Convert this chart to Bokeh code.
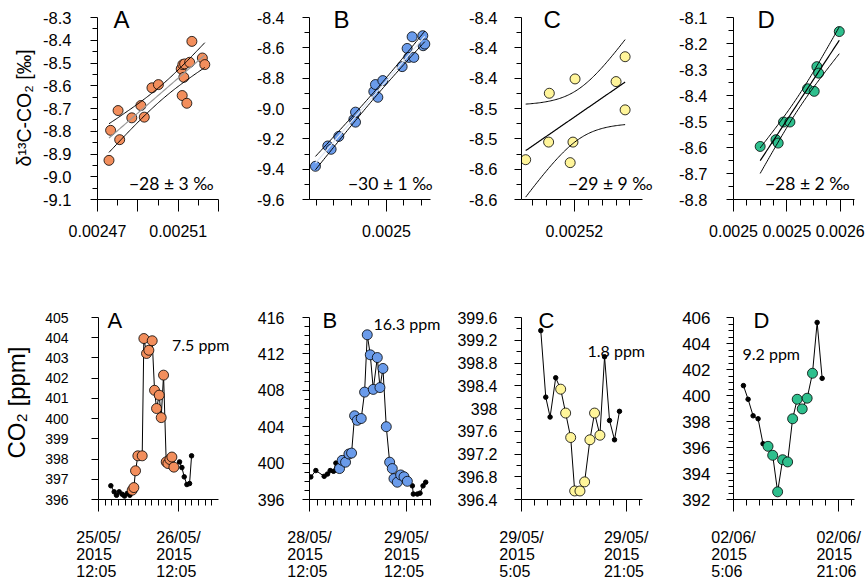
import numpy as np
from bokeh.plotting import figure
from bokeh.models import Range1d, FixedTicker, Label
from bokeh.layouts import column, row
from bokeh.embed import file_html
from bokeh.resources import INLINE

NB = "\u00a0"

# ---------------- top row: delta13C vs 1/CO2 ----------------
kA_x = [0.0024757, 0.0024765, 0.0024802, 0.0024810, 0.0024870, 0.0024915, 0.0024932,
        0.0024970, 0.0025002, 0.0025115, 0.0025123, 0.0025132, 0.0025128, 0.0025120,
        0.0025143, 0.0025157, 0.0025168, 0.0025220, 0.0025232]
kA_y = [-8.928, -8.796, -8.709, -8.837, -8.741, -8.687, -8.738, -8.609, -8.595, -8.526,
        -8.507, -8.504, -8.563, -8.643, -8.677, -8.497, -8.405, -8.478, -8.507]

kB_x = [0.0024188, 0.0024329, 0.0024367, 0.0024455, 0.0024627, 0.0024646, 0.0024646,
        0.0024855, 0.0024874, 0.0024901, 0.0024958, 0.0025179, 0.0025236, 0.0025255,
        0.0025312, 0.0025293, 0.0025415, 0.0025419, 0.0025438]
kB_y = [-9.381, -9.247, -9.269, -9.184, -9.072, -9.024, -9.090, -8.888, -8.842, -8.926,
        -8.816, -8.724, -8.604, -8.663, -8.663, -8.527, -8.520, -8.586, -8.575]

kC_x = [0.0025130, 0.0025164, 0.0025201, 0.0025163, 0.0025198, 0.0025194, 0.0025260,
        0.0025273, 0.0025273]
kC_y = [-8.5475, -8.4599, -8.4410, -8.5243, -8.5243, -8.5514, -8.4445, -8.4117, -8.4818]

kD_x = [0.0024900, 0.0025018, 0.0025035, 0.0025075, 0.0025123, 0.0025255, 0.0025305,
        0.0025325, 0.0025338, 0.0025493]
kD_y = [-8.596, -8.570, -8.583, -8.502, -8.502, -8.374, -8.384, -8.289, -8.314, -8.154]

source_text = ["\u221228 \u00b1 3 \u2030", "\u221230 \u00b1 1 \u2030",
               "\u221229 \u00b1 9 \u2030", "\u221228 \u00b1 2 \u2030"]
panel_letters = ["A", "B", "C", "D"]

# axis ranges / ticks (top)
kA_xr, kA_yr = (0.00247, 0.00253), (-9.1, -8.3)
kB_xr, kB_yr = (0.002412, 0.0025503), (-9.6, -8.4)
kC_xr, kC_yr = (0.0025124, 0.0025298), (-8.60, -8.36)
kD_xr, kD_yr = (0.00247, 0.0025607), (-8.8, -8.1)

kA_xt = [0.00247, 0.00249, 0.00251, 0.00253]
kA_xl = ["0.00247", "", "0.00251", ""]
kA_xm = [0.00248, 0.0025, 0.00252]
kA_yt = [-9.1, -9.0, -8.9, -8.8, -8.7, -8.6, -8.5, -8.4, -8.3]
kA_yl = ["-9.1", "-9.0", "-8.9", "-8.8", "-8.7", "-8.6", "-8.5", "-8.4", "-8.3"]
kA_ym = [-9.05, -8.95, -8.85, -8.75, -8.65, -8.55, -8.45, -8.35]

kB_xt = [0.0025]
kB_xl = ["0.0025"]
kB_xm = [0.00242, 0.00244, 0.00246, 0.00248, 0.00252, 0.00254]
kB_yt = [-9.6, -9.4, -9.2, -9.0, -8.8, -8.6, -8.4]
kB_yl = ["-9.6", "-9.4", "-9.2", "-9.0", "-8.8", "-8.6", "-8.4"]
kB_ym = [-9.5, -9.3, -9.1, -8.9, -8.7, -8.5]

kC_xt = [0.00252]
kC_xl = ["0.00252"]
kC_xm = [0.002514, 0.002516, 0.002518, 0.002522, 0.002524, 0.002526, 0.002528]
kC_yt = [-8.60, -8.56, -8.52, -8.48, -8.44, -8.40, -8.36]
kC_yl = ["-8.6", "-8.6", "-8.5", "-8.5", "-8.4", "-8.4", "-8.4"]
kC_ym = [-8.58, -8.54, -8.50, -8.46, -8.42, -8.38]

kD_xt = [0.00247, 0.00251, 0.00255]
kD_xl = ["0.0025", "0.0025", "0.0026"]
kD_xm = [0.00248, 0.00249, 0.0025, 0.00252, 0.00253, 0.00254, 0.00256]
kD_yt = [-8.8, -8.7, -8.6, -8.5, -8.4, -8.3, -8.2, -8.1]
kD_yl = ["-8.8", "-8.7", "-8.6", "-8.5", "-8.4", "-8.3", "-8.2", "-8.1"]
kD_ym = [-8.75, -8.65, -8.55, -8.45, -8.35, -8.25, -8.15]

# ---------------- bottom row: CO2 time series (hours after first tick) ----------------
sA_t = [3.7, 4.7, 5.4, 6.2, 7.1, 7.8, 8.6, 9.4,
        10.1, 10.6, 11.1, 11.8, 13.1, 13.6, 14.4, 15.1, 16.1, 16.8, 17.4, 18.2, 18.8, 19.5,
        20.3, 20.8, 21.4, 22.0, 22.6,
        24.3, 25.0, 25.7, 26.5, 27.3, 27.9]
sA_c = [396.68, 396.38, 396.21, 396.38, 396.26, 396.17, 396.30, 396.21,
        396.46, 396.59, 397.42, 398.16, 398.16, 403.96, 403.22, 403.38, 403.85, 401.40, 400.50,
        401.16, 400.05, 402.15, 397.86, 397.78, 397.98, 398.10, 397.60,
        397.86, 397.58, 397.12, 396.74, 396.79, 398.16]
sA_sel = [0] * 8 + [1] * 19 + [0] * 6

sB_t = [0.33, 1.57, 3.64, 4.47, 5.13, 5.96, 6.54,
        7.45, 8.11, 8.94, 9.77, 10.43, 11.18, 11.84, 12.83, 13.66, 14.32, 15.07, 15.81, 16.81,
        17.47, 18.21, 19.04, 19.87, 20.53, 20.94, 21.77, 22.60, 23.43, 24.26,
        25.50, 25.75, 26.74, 27.40, 28.15, 28.81]
sB_c = [398.48, 399.18, 398.55, 398.80, 399.18, 399.10, 400.00,
        399.40, 400.30, 400.10, 401.00, 401.10, 405.20, 404.70, 404.90, 407.80, 414.10, 411.90,
        408.10, 411.60, 408.30, 410.40, 404.00, 400.10, 399.40, 398.30, 397.90, 398.70, 398.50,
        398.00,
        397.50, 396.60, 396.60, 396.70, 397.50, 397.90]
sB_sel = [0] * 7 + [1] * 23 + [0] * 6

sC_t = [2.95, 3.71, 4.37, 5.23,
        5.99, 6.75, 7.52, 8.13, 8.94, 9.65, 10.46, 11.17, 11.99,
        12.70, 13.46, 14.22, 14.98]
sC_c = [399.37, 398.20, 397.85, 398.54,
        398.34, 397.92, 397.49, 396.55, 396.55, 396.71, 397.45, 397.92, 397.53,
        398.91, 397.79, 397.45, 397.95]
sC_sel = [0] * 4 + [1] * 9 + [0] * 4

sD_t = [1.51, 2.22, 2.98, 3.74, 4.49,
        5.25, 5.96, 6.71, 7.47, 8.23, 8.99, 9.69, 10.45, 11.20, 12.01,
        12.72, 13.48]
sD_c = [400.76, 399.71, 398.44, 398.21, 396.29,
        396.09, 395.40, 392.59, 395.06, 394.89, 398.21, 399.71, 398.97, 399.79, 401.71,
        405.62, 401.32]
sD_sel = [0] * 5 + [1] * 10 + [0] * 2

amp_text = ["7.5 ppm", "16.3 ppm", "1.8 ppm", "9.2 ppm"]

sA_xr, sA_yr = (0, 36), (396, 405)
sB_xr, sB_yr = (0, 30), (396, 416)
sC_xr, sC_yr = (0, 18.5), (396.4, 399.6)
sD_xr, sD_yr = (0, 18.4), (392, 406)

sA_xt, sA_xl = [0, 24], ["25/05/\n2015\n12:05", "26/05/\n2015\n12:05"]
sB_xt, sB_xl = [0, 24], ["28/05/\n2015\n12:05", "29/05/\n2015\n12:05"]
sC_xt, sC_xl = [0, 16], ["29/05/\n2015\n5:05", "29/05/\n2015\n21:05"]
sD_xt, sD_xl = [0, 16], ["02/06/\n2015\n5:06", "02/06/\n2015\n21:06"]
sA_xm = [2, 4, 6, 8, 10, 12, 14, 16, 18, 20, 22, 26, 28, 30, 32, 34]
sB_xm = [2, 4, 6, 8, 10, 12, 14, 16, 18, 20, 22, 26, 28, 30]
sC_xm = [2, 4, 6, 8, 10, 12, 14, 18]
sD_xm = [2, 4, 6, 8, 10, 12, 14, 18]

sA_yt = [396, 397, 398, 399, 400, 401, 402, 403, 404, 405]
sA_yl = ["396", "397", "398", "399", "400", "401", "402", "403", "404", "405"]
sA_ym = []
sB_yt = [396, 400, 404, 408, 412, 416]
sB_yl = ["396", "400", "404", "408", "412", "416"]
sB_ym = [397, 398, 399, 401, 402, 403, 405, 406, 407, 409, 410, 411, 413, 414, 415]
sC_yt = [396.4, 396.8, 397.2, 397.6, 398.0, 398.4, 398.8, 399.2, 399.6]
sC_yl = ["396.4", "396.8", "397.2", "397.6", "398", "398.4", "398.8", "399.2", "399.6"]
sC_ym = [396.6, 397.0, 397.4, 397.8, 398.2, 398.6, 399.0, 399.4]
sD_yt = [392, 394, 396, 398, 400, 402, 404, 406]
sD_yl = ["392", "394", "396", "398", "400", "402", "404", "406"]
sD_ym = [392.5, 393, 393.5, 394.5, 395, 395.5, 396.5, 397, 397.5, 398.5, 399, 399.5,
         400.5, 401, 401.5, 402.5, 403, 403.5, 404.5, 405, 405.5]

# ---------------- layout / styling ----------------
COLORS = ["#F28E5C", "#6A9BEA", "#FFF59A", "#2EBF8D"]
AW, AH = 121, 182                 # axis box size (px)
FIG_LEFT = [0, 230, 442, 654]     # page x of each figure
AXIS_X = [97, 309, 521, 733]      # page x of each y axis
FIG_RIGHT = [230, 442, 654, 868]
TOP_H, BOT_H = 295, 289
TOP_AXIS_TOP, TOP_FRAME_TOP = 17, 5
BOT_AXIS_TOP, BOT_FRAME_TOP = 317, 305
TOP_YFONT = ["16.5px", "16px", "16.5px", "16.5px"]
TOP_YSTAND = [19, 18, 17, 19]
BOT_YFONT = ["14px", "16px", "16px", "17px"]
BOT_YSTAND = [23, 18, 17, 16]
T975 = {7: 2.365, 8: 2.306, 17: 2.110}
TICK_FONT = "Liberation Sans"
NOTE_FONT = "Lato"


def regression(x, y):
    x = np.asarray(x, float)
    y = np.asarray(y, float)
    n = len(x)
    xm, ym = x.mean(), y.mean()
    sxx = ((x - xm) ** 2).sum()
    b = ((x - xm) * (y - ym)).sum() / sxx
    a = ym - b * xm
    s = np.sqrt(((y - (a + b * x)) ** 2).sum() / (n - 2))
    xs = np.linspace(x.min(), x.max(), 80)
    yh = a + b * xs
    hw = T975[n - 2] * s * np.sqrt(1.0 / n + (xs - xm) ** 2 / sxx)
    return xs, yh, yh - hw, yh + hw


def pos(xr, yr, px, py):
    return (xr[0] + px / AW * (xr[1] - xr[0]), yr[0] + py / AH * (yr[1] - yr[0]))


def left_block(label):
    # pad the lines of a multi-line tick label so they line up on the left
    lines = label.split("\n")
    widths = [sum(0.278 if ch in "/:" else 0.556 for ch in ln) for ln in lines]
    wmax = max(widths)
    return "\n".join(ln + NB * int(round((wmax - w) / 0.278)) for ln, w in zip(lines, widths))


def make_fig(col, xr, yr, height, frame_top, axis_top):
    fw = FIG_RIGHT[col] - AXIS_X[col]
    fh = AH + (axis_top - frame_top)
    xr_ext = (xr[0], xr[0] + (xr[1] - xr[0]) * fw / AW)
    yr_ext = (yr[0], yr[0] + (yr[1] - yr[0]) * fh / AH)
    top_border = frame_top - (0 if height == TOP_H else TOP_H)
    p = figure(width=FIG_RIGHT[col] - FIG_LEFT[col], height=height,
               x_range=Range1d(*xr_ext), y_range=Range1d(*yr_ext),
               output_backend="svg", toolbar_location=None,
               min_border_left=AXIS_X[col] - FIG_LEFT[col], min_border_right=0,
               min_border_top=top_border, min_border_bottom=height - top_border - fh)
    p.outline_line_color = None
    p.grid.visible = False
    p.background_fill_color = "white"
    p.border_fill_color = "white"
    p.xaxis.bounds = xr
    p.yaxis.bounds = yr
    for ax in (p.xaxis[0], p.yaxis[0]):
        ax.axis_line_color = "black"
        ax.major_tick_line_color = "black"
        ax.minor_tick_line_color = "black"
        ax.major_tick_in = 0
        ax.minor_tick_in = 0
        ax.major_label_text_font = TICK_FONT
        ax.major_label_text_color = "black"
    p.xaxis.major_tick_out = 12
    p.xaxis.minor_tick_out = 6
    p.yaxis.major_tick_out = 7
    p.yaxis.minor_tick_out = 5
    p.xaxis.major_label_text_font_size = "16px"
    return p


def set_ticks(axis, ticks, labels, minors):
    axis.ticker = FixedTicker(ticks=ticks, minor_ticks=minors)
    axis.major_label_overrides = dict(zip(ticks, labels))


def add_text(p, x, y, text, font, size, align):
    p.add_layout(Label(x=x, y=y, text=text, text_font=font, text_font_size=size,
                       text_color="black", text_baseline="middle", text_align=align,
                       level="overlay"))


top_specs = [
    (kA_x, kA_y, kA_xr, kA_yr, kA_xt, kA_xl, kA_xm, kA_yt, kA_yl, kA_ym, "#9a9a9a", 16, -5),
    (kB_x, kB_y, kB_xr, kB_yr, kB_xt, kB_xl, kB_xm, kB_yt, kB_yl, kB_ym, "#dfe7f5", 24, 2),
    (kC_x, kC_y, kC_xr, kC_yr, kC_xt, kC_xl, kC_xm, kC_yt, kC_yl, kC_ym, "black", 22, 10),
    (kD_x, kD_y, kD_xr, kD_yr, kD_xt, kD_xl, kD_xm, kD_yt, kD_yl, kD_ym, "black", 24, -5),
]
bot_specs = [
    (sA_t, sA_c, sA_sel, sA_xr, sA_yr, sA_xt, sA_xl, sA_xm, sA_yt, sA_yl, sA_ym, 9, (74, 155)),
    (sB_t, sB_c, sB_sel, sB_xr, sB_yr, sB_xt, sB_xl, sB_xm, sB_yt, sB_yl, sB_ym, 13, (64, 176)),
    (sC_t, sC_c, sC_sel, sC_xr, sC_yr, sC_xt, sC_xl, sC_xm, sC_yt, sC_yl, sC_ym, 17, (66, 149)),
    (sD_t, sD_c, sD_sel, sD_xr, sD_yr, sD_xt, sD_xl, sD_xm, sD_yt, sD_yl, sD_ym, 20, (9, 146)),
]

top_figs, bot_figs = [], []
for i, (x, y, xr, yr, xt, xl, xm, yt, yl, ym, mid_col, lx, ax_) in enumerate(top_specs):
    p = make_fig(i, xr, yr, TOP_H, TOP_FRAME_TOP, TOP_AXIS_TOP)
    p.xaxis.major_label_standoff = 13
    p.yaxis.major_label_standoff = TOP_YSTAND[i]
    p.yaxis.major_label_text_font_size = TOP_YFONT[i]
    set_ticks(p.xaxis[0], xt, xl, xm)
    set_ticks(p.yaxis[0], yt, yl, ym)
    p.scatter(x, y, size=10, fill_color=COLORS[i], line_color="black", line_width=0.8)
    xs, yh, lo, hi = regression(x, y)
    p.line(xs, lo, color="black", line_width=1)
    p.line(xs, hi, color="black", line_width=1)
    p.line(xs, yh, color=mid_col, line_width=1.2)
    lxp, lyp = pos(xr, yr, lx, 180.5)
    add_text(p, lxp, lyp, panel_letters[i], TICK_FONT, "24px", "left")
    txp, typ = pos(xr, yr, AW + ax_, 16)
    add_text(p, txp, typ, source_text[i], NOTE_FONT, "17.5px", "right")
    if i == 0:
        p.yaxis.axis_label = "\u03b4\u00b9\u00b3C-CO\u2082 [\u2030]" + NB * 2
        p.yaxis.axis_label_text_font = TICK_FONT
        p.yaxis.axis_label_text_font_style = "normal"
        p.yaxis.axis_label_text_font_size = "19.5px"
        p.yaxis.axis_label_text_color = "black"
        p.yaxis.axis_label_standoff = 5
    top_figs.append(p)

for i, (t, c, sel, xr, yr, xt, xl, xm, yt, yl, ym, lx, ap) in enumerate(bot_specs):
    p = make_fig(i, xr, yr, BOT_H, BOT_FRAME_TOP, BOT_AXIS_TOP)
    p.xaxis.major_label_standoff = 17
    p.xaxis.major_label_text_line_height = 1.02
    p.yaxis.major_label_standoff = BOT_YSTAND[i]
    p.yaxis.major_label_text_font_size = BOT_YFONT[i]
    set_ticks(p.xaxis[0], xt, [left_block(s) for s in xl], xm)
    set_ticks(p.yaxis[0], yt, yl, ym)
    p.line(t, c, color="black", line_width=1)
    p.scatter(t, c, size=4.5, color="black")
    ts = [tt for tt, s in zip(t, sel) if s]
    cs = [cc for cc, s in zip(c, sel) if s]
    p.scatter(ts, cs, size=10, fill_color=COLORS[i], line_color="black", line_width=0.8)
    lxp, lyp = pos(xr, yr, lx, 179.5)
    add_text(p, lxp, lyp, panel_letters[i], TICK_FONT, "22px", "left")
    axp, ayp = pos(xr, yr, ap[0], ap[1])
    add_text(p, axp, ayp, amp_text[i], NOTE_FONT, "16px", "left")
    if i == 0:
        p.yaxis.axis_label = "CO\u2082 [ppm]"
        p.yaxis.axis_label_text_font = TICK_FONT
        p.yaxis.axis_label_text_font_style = "normal"
        p.yaxis.axis_label_text_font_size = "24px"
        p.yaxis.axis_label_text_color = "black"
        p.yaxis.axis_label_standoff = 12
    bot_figs.append(p)

layout = column(row(*top_figs), row(*bot_figs))
open("out.html", "w").write(file_html(layout, INLINE))
